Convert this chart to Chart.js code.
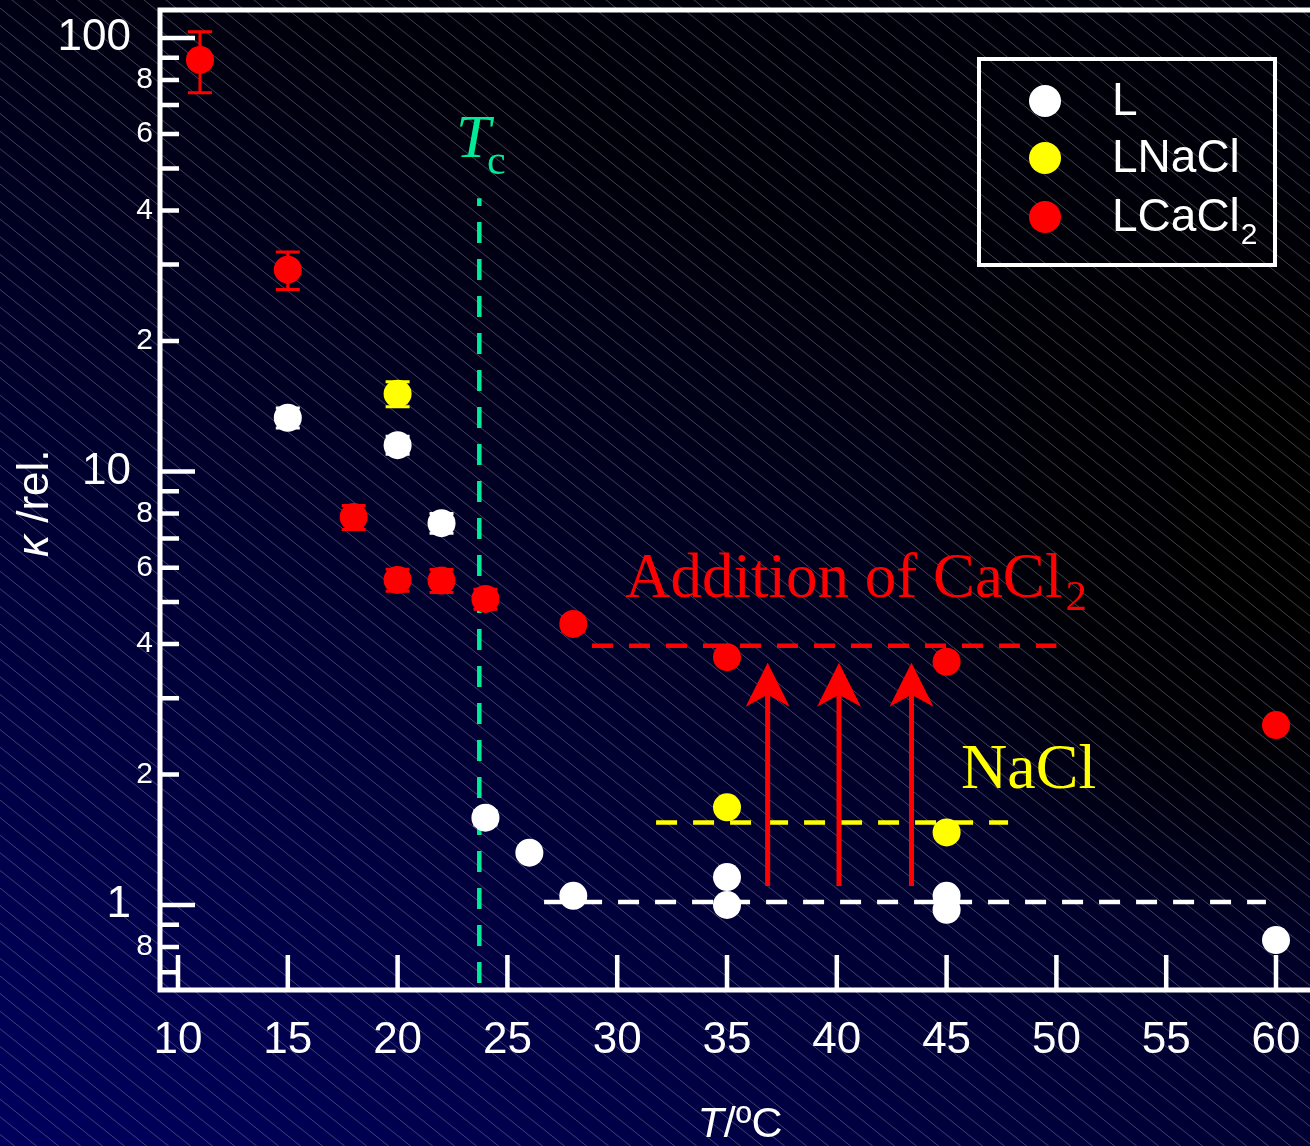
<!DOCTYPE html>
<html>
<head>
<meta charset="utf-8">
<script src="https://cdn.jsdelivr.net/npm/chart.js@4.4.0/dist/chart.umd.min.js"></script>
<style>
html, body { margin: 0; padding: 0; background: #000; }
canvas { display: block; }
</style>
</head>
<body>
<canvas id="kappa-chart" width="1310" height="1146"></canvas>
<script>
// kappa (relative) vs temperature
var tempL = [15, 20, 22, 24, 26, 28, 35, 35, 45, 45, 60];
var kappaL = [13.3, 11.5, 7.6, 1.59, 1.32, 1.05, 1.16, 1.0, 1.05, 0.975, 0.83];
var errL = [0.7, 0.55, 0.4, 0.06, 0.02, 0.02, 0.02, 0.02, 0.02, 0.02, 0.01];

var tempNaCl = [20, 35, 45];
var kappaNaCl = [15.1, 1.68, 1.47];
var errNaCl = [1.0, 0.03, 0.03];

var tempCaCl2 = [11, 15, 18, 20, 22, 24, 28, 35, 45, 60];
var kappaCaCl2 = [89, 29.2, 7.85, 5.62, 5.6, 5.08, 4.45, 3.73, 3.64, 2.6];
var errCaCl2 = [14.3, 2.9, 0.5, 0.33, 0.34, 0.27, 0.17, 0.05, 0.05, 0.08];

// guide lines
var tcTemp = [23.72, 23.72];
var tcKappa = [0.661, 42.7];
var caLineTemp = [28.85, 50.0];
var caLineKappa = [3.96, 3.96];
var naLineTemp = [31.77, 47.8];
var naLineKappa = [1.55, 1.55];
var lLineTemp = [26.67, 59.54];
var lLineKappa = [1.016, 1.016];

// "addition of CaCl2" arrows
var arrowTemp = [36.85, 40.1, 43.4];
var arrowFrom = 1.106;
var arrowTo = 3.62;

// axes
var xMin = 9.18, xMax = 61.548;
var yMin = 0.6366, yMax = 116.0;
var xTicks = [10, 15, 20, 25, 30, 35, 40, 45, 50, 55, 60];
var yTicks = [0.7, 0.8, 0.9, 1, 2, 3, 4, 5, 6, 7, 8, 9, 10, 20, 30, 40, 50, 60, 70, 80, 90, 100];
var yTickLabels = ['', '8', '', '1', '2', '', '4', '', '6', '', '8', '', '10', '2', '', '4', '', '6', '', '8', '', '100'];
var yMajor = [1, 10, 100];

var sans = '"Liberation Sans", Arial, sans-serif';
var serif = '"Liberation Serif", "Times New Roman", serif';

function pts(xs, ys) {
  return xs.map(function (x, i) { return { x: x, y: ys[i] }; });
}
function isMajor(v) {
  return yMajor.some(function (m) { return Math.abs(m - v) < 1e-9; });
}

// background: dark blue gradient, black patch on the right, thin diagonal hatching
var backdrop = {
  id: 'backdrop',
  beforeDraw: function (chart) {
    var ctx = chart.ctx, w = chart.width, h = chart.height;
    ctx.save();
    var g = ctx.createLinearGradient(1250, 450, 728, 1482);
    g.addColorStop(0, '#000008');
    g.addColorStop(1, '#00005c');
    ctx.fillStyle = g;
    ctx.fillRect(0, 0, w, h);
    var r = ctx.createRadialGradient(1260, 560, 0, 1260, 560, 380);
    r.addColorStop(0, 'rgba(0,0,0,1)');
    r.addColorStop(0.5, 'rgba(0,0,0,0.8)');
    r.addColorStop(1, 'rgba(0,0,0,0)');
    ctx.fillStyle = r;
    ctx.fillRect(0, 0, w, h);
    ctx.strokeStyle = 'rgba(170,170,195,0.38)';
    ctx.lineWidth = 1;
    var m = 0.8, step = 17.6;
    ctx.beginPath();
    for (var c = -m * w; c < h; c += step) {
      ctx.moveTo(0, c);
      ctx.lineTo(w, c + m * w);
    }
    ctx.stroke();
    ctx.restore();
  }
};

// error bars, drawn just before each point dataset
var errorBars = {
  id: 'errorBars',
  beforeDatasetDraw: function (chart, args) {
    var ds = chart.data.datasets[args.index];
    if (!ds.err) return;
    var ctx = chart.ctx, xs = chart.scales.x, ys = chart.scales.y;
    ctx.save();
    ctx.strokeStyle = ds.backgroundColor;
    ctx.lineWidth = 3;
    ds.data.forEach(function (p, i) {
      var px = xs.getPixelForValue(p.x);
      var hi = ys.getPixelForValue(p.y + ds.err[i]);
      var lo = ys.getPixelForValue(p.y - ds.err[i]);
      ctx.beginPath();
      ctx.moveTo(px, lo); ctx.lineTo(px, hi);
      ctx.moveTo(px - 12, hi); ctx.lineTo(px + 12, hi);
      ctx.moveTo(px - 12, lo); ctx.lineTo(px + 12, lo);
      ctx.stroke();
    });
    ctx.restore();
  }
};

// text with a subscript part
function subText(ctx, text, sub, x, y, font, subFont, dx, dy) {
  ctx.font = font;
  ctx.fillText(text, x, y);
  var w = ctx.measureText(text).width;
  ctx.font = subFont;
  ctx.fillText(sub, x + w + dx, y + dy);
}

var decorations = {
  id: 'decorations',
  afterDatasetsDraw: function (chart) {
    var ctx = chart.ctx, xs = chart.scales.x, ys = chart.scales.y;
    ctx.save();
    // arrows
    ctx.fillStyle = '#ff0000';
    ctx.strokeStyle = '#ff0000';
    ctx.lineWidth = 5;
    arrowTemp.forEach(function (t) {
      var px = xs.getPixelForValue(t);
      var base = ys.getPixelForValue(arrowFrom);
      var tip = ys.getPixelForValue(arrowTo);
      ctx.beginPath();
      ctx.moveTo(px, base); ctx.lineTo(px, tip + 30);
      ctx.stroke();
      ctx.beginPath();
      ctx.moveTo(px, tip);
      ctx.lineTo(px + 22, tip + 44);
      ctx.lineTo(px, tip + 32);
      ctx.lineTo(px - 22, tip + 44);
      ctx.closePath();
      ctx.fill();
    });
    ctx.restore();
  },
  afterDraw: function (chart) {
    var ctx = chart.ctx, xs = chart.scales.x, ys = chart.scales.y, a = chart.chartArea;
    ctx.save();
    ctx.strokeStyle = '#ffffff';
    // inward ticks
    ctx.lineWidth = 4.5;
    ctx.beginPath();
    yTicks.forEach(function (v) {
      var py = ys.getPixelForValue(v);
      ctx.moveTo(a.left, py);
      ctx.lineTo(a.left + (isMajor(v) ? 35 : 19), py);
    });
    xTicks.forEach(function (v) {
      var px = xs.getPixelForValue(v);
      ctx.moveTo(px, a.bottom);
      ctx.lineTo(px, a.bottom - 35);
    });
    ctx.stroke();
    // frame (right side is off the picture)
    ctx.lineWidth = 5;
    ctx.lineCap = 'square';
    ctx.beginPath();
    ctx.moveTo(a.right + 5, a.top);
    ctx.lineTo(a.left, a.top);
    ctx.lineTo(a.left, a.bottom);
    ctx.lineTo(a.right + 5, a.bottom);
    ctx.stroke();

    // annotations
    ctx.textBaseline = 'alphabetic';
    ctx.textAlign = 'left';
    ctx.fillStyle = '#00eb98';
    var tx = xs.getPixelForValue(22.66), ty = ys.getPixelForValue(53.2);
    ctx.font = 'italic 62px ' + serif;
    ctx.fillText('T', tx, ty);
    ctx.font = '42px ' + serif;
    ctx.fillText('c', tx + 31, ty + 17);

    ctx.fillStyle = '#ff0000';
    subText(ctx, 'Addition of CaCl', '2', xs.getPixelForValue(30.35), ys.getPixelForValue(5.13),
      '63px ' + serif, '43px ' + serif, 3, 13);

    ctx.fillStyle = '#ffff00';
    ctx.font = '64px ' + serif;
    ctx.fillText('NaCl', xs.getPixelForValue(45.66), ys.getPixelForValue(1.862));

    // axis titles
    ctx.fillStyle = '#ffffff';
    ctx.font = 'italic 43px ' + sans;
    var w1 = ctx.measureText('T').width;
    ctx.font = '43px ' + sans;
    var w2 = ctx.measureText('/\u00baC').width;
    var sx = 740 - (w1 + w2) / 2;
    ctx.font = 'italic 43px ' + sans;
    ctx.fillText('T', sx, 1137);
    ctx.font = '43px ' + sans;
    ctx.fillText('/\u00baC', sx + w1, 1137);

    ctx.save();
    ctx.translate(48, 557);
    ctx.rotate(-Math.PI / 2);
    ctx.font = 'italic 44px ' + sans;
    ctx.fillText('\u03ba', 0, 0);
    var kw = ctx.measureText('\u03ba').width;
    ctx.font = '44px ' + sans;
    ctx.fillText(' /rel.', kw, 0);
    ctx.restore();

    // legend box
    ctx.lineWidth = 4;
    ctx.lineCap = 'butt';
    ctx.strokeRect(979, 59, 296, 206);
    var rows = [101, 158, 217];
    chart.data.datasets.filter(function (d) { return d.err; }).forEach(function (d, i) {
      ctx.fillStyle = d.backgroundColor;
      ctx.beginPath();
      ctx.arc(1045, rows[i], 16, 0, Math.PI * 2);
      ctx.fill();
      ctx.fillStyle = '#ffffff';
      var parts = d.label.split('_');
      if (parts.length > 1) {
        subText(ctx, parts[0], parts[1], 1112, rows[i] + 14, '46px ' + sans, '30px ' + sans, 1, 13);
      } else {
        ctx.font = '46px ' + sans;
        ctx.fillText(parts[0], 1112, rows[i] + 14);
      }
    });
    ctx.restore();
  }
};

function guide(data, color) {
  return {
    type: 'scatter', data: data, showLine: true, order: 2,
    borderColor: color, borderWidth: 4.5, borderDash: [21, 16],
    pointRadius: 0, fill: false
  };
}
function markers(label, data, err, color) {
  return {
    label: label, data: data, err: err, order: 0,
    backgroundColor: color, borderWidth: 0,
    pointRadius: 14, pointHoverRadius: 14
  };
}

var ctx = document.getElementById('kappa-chart');
var kappaChart = new Chart(ctx, {
  type: 'scatter',
  data: {
    datasets: [
      markers('L', pts(tempL, kappaL), errL, '#ffffff'),
      markers('LNaCl', pts(tempNaCl, kappaNaCl), errNaCl, '#ffff00'),
      markers('LCaCl_2', pts(tempCaCl2, kappaCaCl2), errCaCl2, '#ff0000'),
      guide(pts(tcTemp, tcKappa), '#00eb98'),
      guide(pts(lLineTemp, lLineKappa), '#ffffff'),
      guide(pts(naLineTemp, naLineKappa), '#ffff00'),
      guide(pts(caLineTemp, caLineKappa), '#ff0000')
    ]
  },
  options: {
    responsive: false,
    animation: false,
    events: [],
    layout: { autoPadding: false, padding: { top: 10, left: 0, right: 0, bottom: 0 } },
    plugins: { legend: { display: false }, tooltip: { enabled: false } },
    scales: {
      x: {
        type: 'linear', min: xMin, max: xMax, bounds: 'data',
        grid: { display: false, drawTicks: false },
        border: { display: false },
        afterBuildTicks: function (s) {
          s.ticks = xTicks.map(function (v) { return { value: v }; });
          s.min = xMin; s.max = xMax;
        },
        afterFit: function (s) { s.height = 156; s.paddingLeft = 0; s.paddingRight = 0; },
        ticks: {
          autoSkip: false, maxRotation: 0, padding: 24,
          color: '#ffffff', font: { family: sans, size: 44 }
        }
      },
      y: {
        type: 'logarithmic', min: yMin, max: yMax, bounds: 'data',
        grid: { display: false, drawTicks: false },
        border: { display: false },
        afterBuildTicks: function (s) {
          s.ticks = yTicks.map(function (v) { return { value: v }; });
          s.min = yMin; s.max = yMax;
        },
        afterFit: function (s) { s.width = 160; s.paddingTop = 0; s.paddingBottom = 0; },
        ticks: {
          autoSkip: false, padding: 7, color: '#ffffff',
          callback: function (value, index) {
            var lab = yTickLabels[index];
            return isMajor(yTicks[index]) ? lab + '\u2002' : lab;
          },
          font: function (c) {
            var v = c.tick ? c.tick.value : 1;
            return { family: sans, size: isMajor(v) ? 44 : 30 };
          }
        }
      }
    }
  },
  plugins: [backdrop, errorBars, decorations]
});
</script>
</body>
</html>
